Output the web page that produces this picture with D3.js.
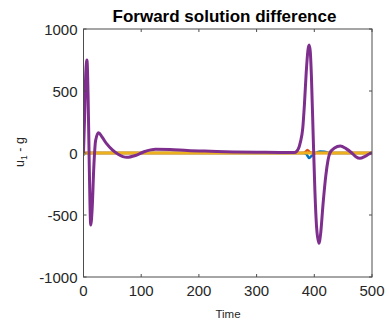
<!DOCTYPE html>
<html><head><meta charset="utf-8">
<script src="https://cdn.jsdelivr.net/npm/d3@7"></script>
<style>body{margin:0;background:#fff}svg{display:block}text{font-family:"Liberation Sans",Arial,sans-serif}</style>
</head><body><svg id="c" width="389" height="322"></svg>
<script>
const xTicks=[0,100,200,300,400,500];
const yTicks=[-1000,-500,0,500,1000];
const colors=["#0072BD","#D95319","#EDB120","#7E2F8E"];
const tBlue=[0,1,3,380,386,391,396,402,410,418,428,500];
const vBlue=[0,-12,0,0,-8,-40,-20,0,12,10,0,0];
const tOrange=[0,380,385,388,392,398,500];
const vOrange=[0,0,10,25,8,0,0];
const tYellow=[0,500];
const vYellow=[0,0];
const tPurple=[0,2,4,6,8,10,12.5,15,18,21,26,32,40,50,60,75,90,105,125,150,180,220,260,300,340,366,372,376,380,383,386,389,391,393,395,398,401,404,408,411,415,420,427,435,445,455,465,472,479,487,494,500];
const vPurple=[0,300,650,750,450,-100,-580,-450,-100,100,164,130,75,25,-10,-35,-20,10,30,28,20,14,9,6,5,5,30,90,200,400,650,830,870,820,620,150,-300,-600,-728,-650,-420,-180,0,40,56,35,0,-30,-43,-30,-10,3];

const W=389,H=322,L=83.5,R=372,T=29,B=277;
const svg=d3.select("#c");
const x=d3.scaleLinear().domain([0,500]).range([L,R]);
const y=d3.scaleLinear().domain([-1000,1000]).range([B,T]);
const series=[[tBlue,vBlue],[tOrange,vOrange],[tYellow,vYellow],[tPurple,vPurple]];
const line=d3.line().x(d=>x(d[0])).y(d=>y(d[1])).curve(d3.curveMonotoneX);
const g=svg.append("g");
svg.append("clipPath").attr("id","cp").append("rect").attr("x",L).attr("y",T).attr("width",R-L).attr("height",B-T);
series.forEach((s,i)=>{
  const pts=s[0].map((t,j)=>[t,s[1][j]]);
  g.append("path").attr("d",line(pts)).attr("fill","none").attr("stroke",colors[i])
   .attr("stroke-width",i>=2?3:2.5).attr("stroke-linejoin","round").attr("clip-path","url(#cp)");
});
const ac="#4d4d4d";
const ax=svg.append("g");
ax.append("rect").attr("x",L).attr("y",T).attr("width",R-L).attr("height",B-T).attr("fill","none").attr("stroke",ac).attr("stroke-width",1);
xTicks.forEach(v=>{
  ax.append("line").attr("x1",x(v)).attr("x2",x(v)).attr("y1",B).attr("y2",B-3).attr("stroke",ac);
  ax.append("line").attr("x1",x(v)).attr("x2",x(v)).attr("y1",T).attr("y2",T+3).attr("stroke",ac);
  ax.append("text").attr("x",x(v)).attr("y",295.5).attr("text-anchor","middle").attr("font-size",15).attr("fill","#262626").text(v);
});
yTicks.forEach(v=>{
  ax.append("line").attr("x1",L).attr("x2",L+3).attr("y1",y(v)).attr("y2",y(v)).attr("stroke",ac);
  ax.append("line").attr("x1",R).attr("x2",R-3).attr("y1",y(v)).attr("y2",y(v)).attr("stroke",ac);
  ax.append("text").attr("x",L-6).attr("y",y(v)+5.5).attr("text-anchor","end").attr("font-size",15).attr("fill","#262626").text(v);
});
svg.append("text").attr("x",224.5).attr("y",21.5).attr("text-anchor","middle").attr("font-size",17).attr("font-weight","bold").attr("fill","#000").text("Forward solution difference");
svg.append("text").attr("x",228).attr("y",318).attr("text-anchor","middle").attr("font-size",11.5).attr("fill","#262626").text("Time");
const yl=svg.append("text").attr("transform","translate(24,152) rotate(-90)").attr("text-anchor","middle").attr("font-size",12.5).attr("fill","#262626");
yl.append("tspan").text("u");
yl.append("tspan").attr("font-size",8.5).attr("dy",3).text("1");
yl.append("tspan").attr("dy",-3).text(" - g");
</script></body></html>
